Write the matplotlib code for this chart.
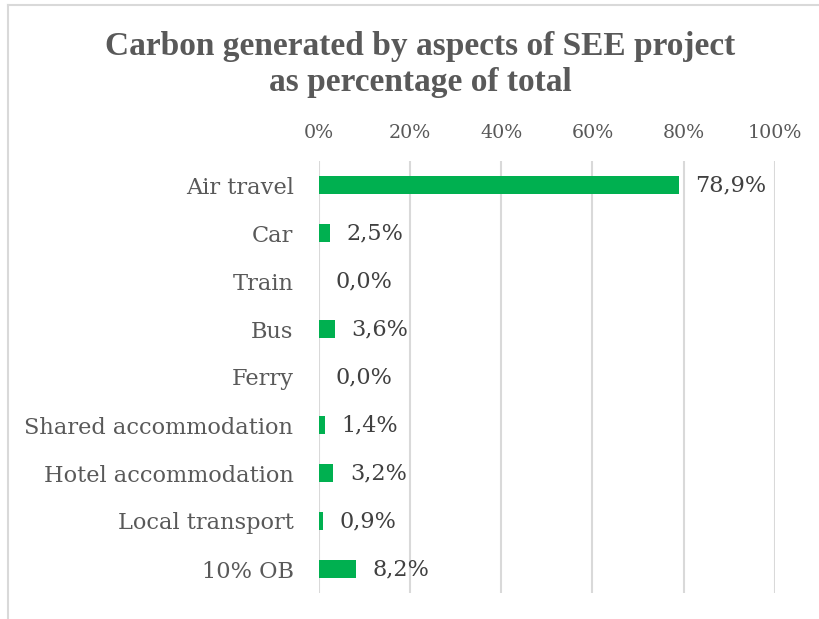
import matplotlib.pyplot as plt
from matplotlib.lines import Line2D
from matplotlib.ticker import FuncFormatter

categories = [
    "Air travel",
    "Car",
    "Train",
    "Bus",
    "Ferry",
    "Shared accommodation",
    "Hotel accommodation",
    "Local transport",
    "10% OB",
]
shares = [78.9, 2.5, 0.0, 3.6, 0.0, 1.4, 3.2, 0.9, 8.2]
x_ticks = [0, 20, 40, 60, 80, 100]

text_grey = "#595959"
bar_green = "#00B050"
grid_grey = "#D9D9D9"

plt.rcParams["font.family"] = ["DejaVu Serif"]

W, H = 819, 619
fig = plt.figure(figsize=(W / 100, H / 100), dpi=100)

# axes placed in pixel terms: x 318.5..775, y 161..593
left, right, top, bottom = 318.5, 775, 161, 593
ax = fig.add_axes([left / W, 1 - bottom / H, (right - left) / W, (bottom - top) / H])

y_pos = list(range(len(categories)))
ax.barh(y_pos, shares, height=0.36, color=bar_green, zorder=3)

for y, v in zip(y_pos, shares):
    ax.annotate(
        f"{v:.1f}%".replace(".", ","),
        xy=(v, y),
        xytext=(12, 0),
        textcoords="offset points",
        va="center",
        ha="left",
        fontsize=16.1,
        color="#404040",
    )

ax.set_xlim(0, 100)
ax.set_ylim(len(categories) - 0.5, -0.5)
ax.set_xticks(x_ticks)
ax.xaxis.set_major_formatter(FuncFormatter(lambda v, _: f"{v:.0f}%"))
ax.xaxis.tick_top()
ax.set_yticks(y_pos)
ax.set_yticklabels(categories)

ax.tick_params(axis="x", length=0, pad=14, labelsize=13.7, labelcolor=text_grey)
ax.tick_params(axis="y", length=0, pad=18, labelsize=16.2, labelcolor=text_grey)
ax.grid(axis="x", color=grid_grey, linewidth=1.5, zorder=0)
for spine in ax.spines.values():
    spine.set_visible(False)

title_kw = dict(ha="center", va="center", fontsize=24, fontweight="bold",
                color=text_grey, family="Liberation Serif")
fig.text(0.5 * (106 + 734) / W, 1 - 47 / H, "Carbon generated by aspects of SEE project", **title_kw)
fig.text(0.5 * (106 + 734) / W, 1 - 83 / H, "as percentage of total", **title_kw)

# partial chart frame (top and left edges only)
fig.add_artist(Line2D([8 / W, 1], [1 - 5 / H, 1 - 5 / H], color=grid_grey, linewidth=1.5))
fig.add_artist(Line2D([8 / W, 8 / W], [0, 1 - 5 / H], color=grid_grey, linewidth=1.5))

fig.savefig("out.png", dpi=100)
